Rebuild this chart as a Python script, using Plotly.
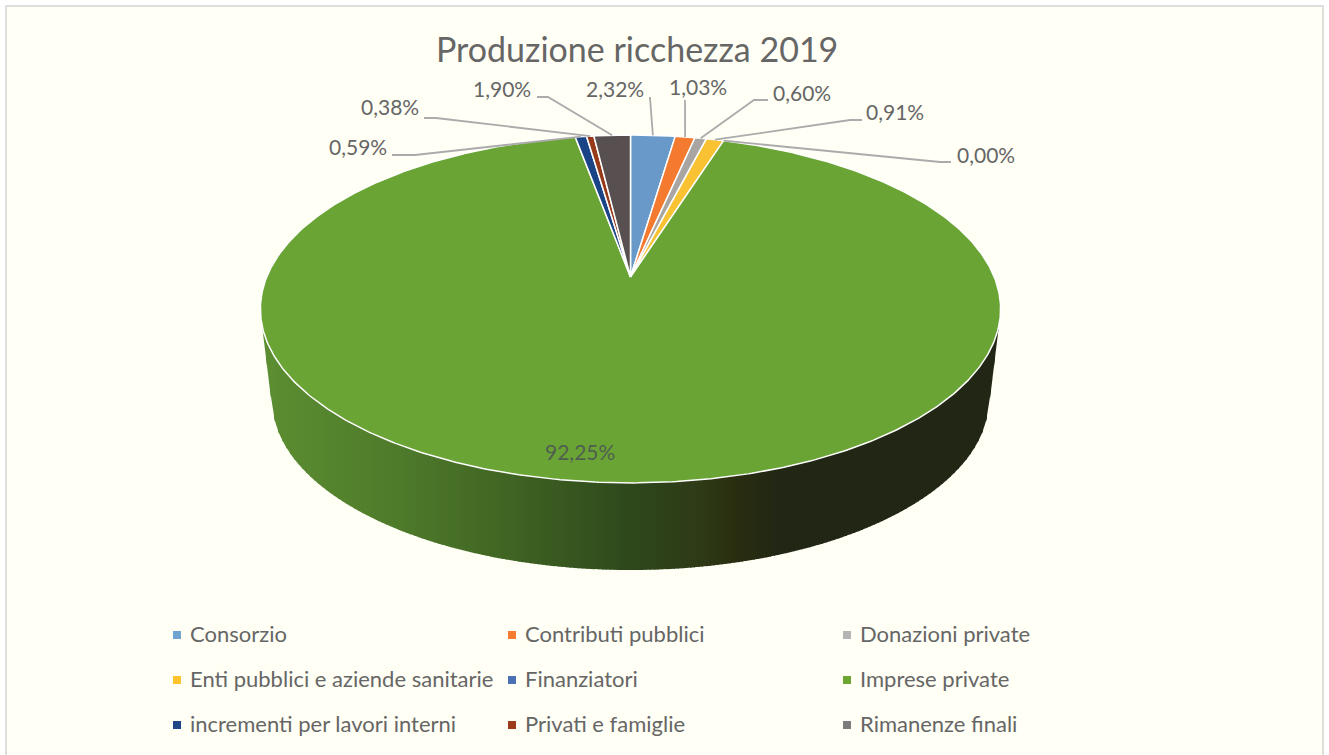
import math
import plotly.graph_objects as go

TITLE = "Produzione ricchezza 2019"
CATEGORIES = ["Consorzio", "Contributi pubblici", "Donazioni private",
              "Enti pubblici e aziende sanitarie", "Finanziatori", "Imprese private",
              "incrementi per lavori interni", "Privati e famiglie", "Rimanenze finali"]
VALUES = [2.32, 1.03, 0.60, 0.91, 0.00, 92.25, 0.59, 0.38, 1.90]
VALUE_LABELS = ["2,32%", "1,03%", "0,60%", "0,91%", "0,00%", "92,25%", "0,59%", "0,38%", "1,90%"]
SLICE_COLORS = ["#6899C9", "#F47A2F", "#A8A5A2", "#F8C232", "#4472C4", "#6AA435",
                "#1B4487", "#963A19", "#574F50"]
LEGEND_COLORS = ["#6FA3D0", "#F47B30", "#B4B4B4", "#FFC42D", "#4A6FB5", "#6FA62F",
                 "#1F4788", "#9C3B1B", "#7C7C7C"]
SIDE_STOPS = [(262, (92, 142, 50)), (400, (78, 122, 42)), (520, (62, 98, 34)),
              (630, (46, 72, 28)), (700, (46, 58, 22)), (735, (42, 46, 16)),
              (775, (33, 39, 20)), (1000, (33, 39, 20))]

W, H = 1329, 755
CX, AY, B, A, K = 630.5, 277.0, 363.8, 168.0, 0.184
BCX, BCY, BRX, BRY = 630.5, 400.0, 358.5, 170.0
SIDE_L, SIDE_R, SIDE_CORNER_Y = 262.0, 999.0, 407.0
TEXT = "#666666"
LEADER = "#ABABAB"
FONT = "Lato"


def top_point(deg):
    t = math.radians(deg)
    u, v = math.sin(t), math.cos(t)
    d = 1 + K * v
    return CX + B * u / d, AY - A * v / d


def wedge(start, end):
    n = max(2, int((end - start) * 2))
    pts = [top_point(start + (end - start) * i / n) for i in range(n + 1)]
    return ([CX] + [p[0] for p in pts] + [CX], [AY] + [p[1] for p in pts] + [AY])


NEAR_ARC = [top_point(i / 4) for i in range(101 * 4, 259 * 4 + 1)]


def top_edge(x):
    return min(NEAR_ARC, key=lambda p: abs(p[0] - x))[1]


def bottom_edge(x):
    left, right = BCX - BRX, BCX + BRX
    if x < left:
        y0 = top_edge(SIDE_L)
        return y0 + (x - SIDE_L) / (left - SIDE_L) * (SIDE_CORNER_Y - y0)
    if x > right:
        y0 = top_edge(SIDE_R)
        return y0 + (SIDE_R - x) / (SIDE_R - right) * (SIDE_CORNER_Y - y0)
    return BCY + BRY * math.sqrt(max(0.0, 1 - ((x - BCX) / BRX) ** 2))


def side_color(x):
    for (x0, c0), (x1, c1) in zip(SIDE_STOPS, SIDE_STOPS[1:]):
        if x <= x1:
            f = (x - x0) / (x1 - x0)
            c = [round(a + (b - a) * f) for a, b in zip(c0, c1)]
            return f"rgb({c[0]},{c[1]},{c[2]})"
    return "rgb(33,39,20)"


fig = go.Figure()

# side wall of the disc, in narrow vertical strips; each strip overlaps the next
step = 4.0
xa = SIDE_L
while xa < SIDE_R:
    xb = min(xa + step, SIDE_R)
    over = min(xb + 1, SIDE_R)
    col = side_color((xa + xb) / 2)
    fig.add_trace(go.Scatter(
        x=[xa, over, over, xa, xa],
        y=[top_edge(xa) - 2, top_edge(over) - 2, bottom_edge(over), bottom_edge(xa), top_edge(xa) - 2],
        mode="none", fill="toself", fillcolor=col, hoverinfo="skip", showlegend=False))
    xa = xb

# top face
total = sum(VALUES)
angle = 0.0
mids = []
for name, val, col in zip(CATEGORIES, VALUES, SLICE_COLORS):
    end = angle + val / total * 360
    mids.append((angle + end) / 2)
    if val > 0:
        xs, ys = wedge(angle, end)
        fig.add_trace(go.Scatter(x=xs, y=ys, mode="lines", fill="toself", fillcolor=col,
                                 line=dict(color="#FFFFFF", width=1.5), name=name,
                                 hoverinfo="name", showlegend=False))
    angle = end

# data labels and leader lines: label centre, elbow x, end x, end y
LABEL_LAYOUT = {
    "2,32%": (615, 88, 650, 649, 98),
    "1,03%": (698, 86, 685, 685, 100),
    "0,60%": (802, 92, 754, 768, 100),
    "0,91%": (895, 111, 850, 862, 120),
    "0,00%": (986, 154, 940, 951, 162),
    "0,59%": (358, 146, 415, 392, 155),
    "0,38%": (390, 106, 436, 424, 118),
    "1,90%": (502, 88, 548, 537, 97),
}
for lab, mid in zip(VALUE_LABELS, mids):
    if lab not in LABEL_LAYOUT:
        continue
    tx, ty, elbow_x, end_x, end_y = LABEL_LAYOUT[lab]
    px, py = top_point(mid)
    fig.add_trace(go.Scatter(x=[px, elbow_x, end_x], y=[py, end_y, end_y], mode="lines",
                             line=dict(color=LEADER, width=1.8), hoverinfo="skip",
                             showlegend=False))
    fig.add_annotation(x=tx, y=ty, text=lab, showarrow=False, xref="x", yref="y",
                       font=dict(family=FONT, size=21, color=TEXT))

fig.add_annotation(x=580, y=451, text="92,25%", showarrow=False, xref="x", yref="y",
                   font=dict(family=FONT, size=21, color="#4F5F4F"))
fig.add_annotation(x=637, y=48, text=TITLE, showarrow=False, xref="x", yref="y",
                   font=dict(family=FONT, size=34, color=TEXT))

# legend grid
COLS = [177, 512, 847]
ROWS = [635, 680, 725]
for i, (name, col) in enumerate(zip(CATEGORIES, LEGEND_COLORS)):
    fig.add_trace(go.Scatter(x=[COLS[i % 3]], y=[ROWS[i // 3]], mode="markers",
                             marker=dict(symbol="square", size=8, color=col),
                             name=name, hoverinfo="name", showlegend=False))
    fig.add_annotation(x=COLS[i % 3] + 11, y=ROWS[i // 3] - 2, text=name, showarrow=False,
                       xanchor="left", xref="x", yref="y",
                       font=dict(family=FONT, size=22, color=TEXT))

axis = dict(visible=False, fixedrange=True)
fig.update_layout(
    width=W, height=H, margin=dict(l=0, r=0, t=0, b=0),
    paper_bgcolor="#FFFFFF", plot_bgcolor="#FFFFFF",
    xaxis=dict(range=[0, W], **axis),
    yaxis=dict(range=[H, 0], **axis),
    showlegend=False,
    shapes=[dict(type="rect", xref="x", yref="y", x0=6, y0=6, x1=1323, y1=760,
                 line=dict(color="#DEDEDA", width=2), fillcolor="#FFFFF5", layer="below")],
)
fig.write_html("out.html", config={"displayModeBar": False},
               post_script="document.body.style.margin='0';document.body.style.overflow='hidden';")
